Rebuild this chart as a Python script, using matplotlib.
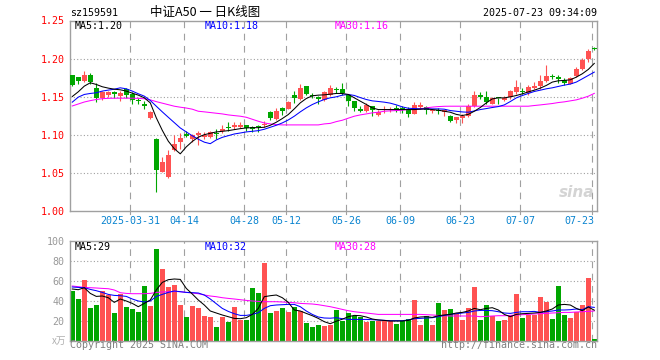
import matplotlib
matplotlib.use("Agg")
import matplotlib.pyplot as plt
from matplotlib.transforms import blended_transform_factory

# Daily candles, 2025-03-17 .. 2025-07-23 (index 0..87)
opens = [1.178, 1.1754, 1.1706, 1.178, 1.1614, 1.148, 1.153, 1.156, 1.151, 1.1605,
         1.154, 1.146, 1.141, 1.1224, 1.0952, 1.052, 1.0443, 1.0798, 1.0904, 1.1018,
         1.0952, 1.0996, 1.097, 1.097, 1.102, 1.1048, 1.1105, 1.111, 1.111, 1.1127,
         1.110, 1.111, 1.1127, 1.1307, 1.1215, 1.1355, 1.1346, 1.153, 1.147, 1.1645,
         1.1526, 1.1496, 1.1455, 1.1526, 1.1596, 1.1605, 1.1526, 1.1439, 1.1346, 1.132,
         1.1377, 1.126, 1.1325, 1.1325, 1.135, 1.1342, 1.1346, 1.1276, 1.137, 1.137,
         1.1316, 1.1325, 1.1298, 1.1254, 1.1195, 1.1219, 1.1245, 1.1386, 1.153, 1.150,
         1.141, 1.1486, 1.1464, 1.1495, 1.156, 1.1578, 1.1552, 1.1618, 1.164, 1.1706,
         1.1772, 1.1758, 1.1715, 1.167, 1.1772, 1.1868, 1.199, 1.2131]
highs = [1.179, 1.176, 1.1838, 1.1807, 1.168, 1.157, 1.158, 1.158, 1.158, 1.162,
         1.156, 1.149, 1.145, 1.132, 1.0955, 1.0706, 1.0807, 1.0996, 1.1026, 1.1057,
         1.101, 1.105, 1.104, 1.105, 1.108, 1.1127, 1.117, 1.1167, 1.117, 1.1136,
         1.112, 1.113, 1.118, 1.132, 1.1355, 1.137, 1.145, 1.1575, 1.167, 1.1645,
         1.155, 1.151, 1.158, 1.165, 1.163, 1.1675, 1.153, 1.144, 1.138, 1.142,
         1.1386, 1.133, 1.1386, 1.137, 1.1395, 1.138, 1.137, 1.143, 1.143, 1.138,
         1.1342, 1.1355, 1.1333, 1.126, 1.1237, 1.128, 1.140, 1.1574, 1.156, 1.1574,
         1.1495, 1.149, 1.1508, 1.1587, 1.1715, 1.162, 1.1649, 1.1693, 1.178, 1.1912,
         1.1803, 1.178, 1.175, 1.1763, 1.189, 1.2013, 1.2122, 1.2157]
lows = [1.164, 1.167, 1.170, 1.167, 1.1434, 1.146, 1.1496, 1.149, 1.145, 1.149,
        1.141, 1.140, 1.134, 1.1215, 1.025, 1.051, 1.0434, 1.0785, 1.082, 1.098,
        1.091, 1.0864, 1.0947, 1.096, 1.095, 1.1026, 1.1048, 1.108, 1.109, 1.105,
        1.104, 1.104, 1.110, 1.119, 1.119, 1.126, 1.134, 1.142, 1.146, 1.152,
        1.1478, 1.1408, 1.144, 1.151, 1.155, 1.152, 1.1377, 1.131, 1.130, 1.130,
        1.1246, 1.1246, 1.129, 1.130, 1.130, 1.129, 1.1237, 1.127, 1.134, 1.127,
        1.129, 1.127, 1.1246, 1.1167, 1.1158, 1.1157, 1.1236, 1.137, 1.1473, 1.141,
        1.1403, 1.141, 1.1443, 1.1473, 1.1539, 1.1535, 1.153, 1.1596, 1.1605, 1.1693,
        1.1728, 1.1675, 1.1649, 1.1662, 1.1763, 1.185, 1.1956, 1.2109]
closes = [1.165, 1.1706, 1.178, 1.169, 1.148, 1.156, 1.156, 1.154, 1.155, 1.153,
          1.146, 1.145, 1.138, 1.130, 1.0535, 1.064, 1.074, 1.0886, 1.0965, 1.099,
          1.0996, 1.102, 1.1004, 1.104, 1.1013, 1.108, 1.1096, 1.1136, 1.1136, 1.109,
          1.108, 1.110, 1.1136, 1.122, 1.132, 1.132, 1.1434, 1.1487, 1.161, 1.154,
          1.151, 1.1465, 1.1565, 1.161, 1.159, 1.1544, 1.1443, 1.135, 1.132, 1.139,
          1.1325, 1.130, 1.134, 1.1333, 1.1333, 1.1333, 1.128, 1.1395, 1.139, 1.1325,
          1.1333, 1.1316, 1.1325, 1.1184, 1.1235, 1.1245, 1.1377, 1.153, 1.150, 1.1438,
          1.1482, 1.1478, 1.1486, 1.1574, 1.1627, 1.1565, 1.1627, 1.164, 1.1706, 1.1772,
          1.1758, 1.174, 1.1684, 1.175, 1.1868, 1.1982, 1.21, 1.2127]

# Price moving averages as drawn
ma5 = [1.1504, 1.1566, 1.164, 1.1684, 1.1662, 1.1632, 1.1614, 1.160, 1.1592, 1.1575,
       1.1548, 1.1522, 1.1487, 1.1421, 1.1225, 1.1061, 1.0919, 1.082, 1.0753, 1.0844,
       1.0915, 1.0971, 1.1004, 1.1022, 1.104, 1.1048, 1.1057, 1.107, 1.1083, 1.1092,
       1.1096, 1.1096, 1.1101, 1.1127, 1.1167, 1.1215, 1.1268, 1.1342, 1.1421, 1.1478,
       1.1513, 1.1522, 1.1526, 1.1535, 1.1544, 1.1544, 1.1531, 1.1487, 1.1443, 1.140,
       1.1355, 1.1333, 1.1333, 1.1333, 1.1333, 1.1333, 1.1333, 1.1333, 1.1338, 1.1342,
       1.1333, 1.1325, 1.1311, 1.1298, 1.127, 1.1255, 1.1270, 1.1311, 1.136, 1.142,
       1.1473, 1.1486, 1.1486, 1.150, 1.1517, 1.1539, 1.1565, 1.1587, 1.1614, 1.1649,
       1.1693, 1.171, 1.1715, 1.1723, 1.1758, 1.1802, 1.1859, 1.1938]
ma10 = [1.143, 1.1496, 1.1531, 1.1544, 1.1553, 1.1575, 1.1588, 1.160, 1.1618, 1.1605,
        1.1575, 1.154, 1.1509, 1.1452, 1.1377, 1.1303, 1.1232, 1.1162, 1.1092, 1.104,
        1.0990, 1.0945, 1.0906, 1.0886, 1.0935, 1.0969, 1.0991, 1.1013, 1.1026, 1.104,
        1.1048, 1.1057, 1.1075, 1.1101, 1.1127, 1.1158, 1.1197, 1.1246, 1.1303, 1.1355,
        1.1399, 1.1434, 1.1465, 1.1487, 1.150, 1.1522, 1.1531, 1.1518, 1.149, 1.1465,
        1.1447, 1.1439, 1.143, 1.1417, 1.1395, 1.1368, 1.135, 1.1346, 1.1342, 1.1342,
        1.1342, 1.1342, 1.1338, 1.132, 1.1311, 1.1302, 1.1298, 1.1315, 1.1333, 1.1346,
        1.136, 1.1372, 1.1394, 1.1438, 1.1486, 1.1517, 1.1544, 1.157, 1.1587, 1.1605,
        1.1618, 1.1636, 1.1653, 1.1667, 1.1693, 1.1736, 1.178, 1.1824]
ma30 = [1.138, 1.1406, 1.1432, 1.145, 1.1465, 1.1476, 1.148, 1.1482, 1.1482, 1.1482,
        1.1482, 1.148, 1.1475, 1.146, 1.1437, 1.1417, 1.1397, 1.1377, 1.1364, 1.1353,
        1.1338, 1.1311, 1.1303, 1.1294, 1.1285, 1.1276, 1.1263, 1.1254, 1.1246, 1.1232,
        1.1206, 1.118, 1.1158, 1.1145, 1.1136, 1.1132, 1.1132, 1.1132, 1.1132, 1.1132,
        1.1132, 1.1132, 1.1145, 1.1152, 1.1175, 1.1193, 1.122, 1.1246, 1.1263, 1.1276,
        1.129, 1.1298, 1.1311, 1.1316, 1.132, 1.1325, 1.1333, 1.1338, 1.1342, 1.1355,
        1.1365, 1.1372, 1.1376, 1.1377, 1.1377, 1.1377, 1.1377, 1.1377, 1.1377, 1.1377,
        1.1377, 1.1377, 1.1377, 1.1377, 1.1377, 1.1377, 1.1377, 1.1386, 1.1394, 1.1403,
        1.1412, 1.1425, 1.1434, 1.1447, 1.146, 1.1482, 1.1508, 1.1545]

# Volume (x10k) and its moving averages
volumes = [49.7, 41.7, 60.7, 32.7, 35.7, 49.7, 45.7, 27.7, 46.7, 33.7,
           31.7, 28.7, 54.7, 34.7, 91.7, 71.7, 53.7, 55.7, 35.7, 23.7,
           34.7, 32.7, 24.7, 23.7, 13.7, 23.7, 18.7, 33.7, 20.7, 20.7,
           52.7, 47.7, 77.7, 27.7, 29.7, 32.7, 28.7, 33.7, 29.7, 17.7,
           13.7, 15.7, 14.7, 15.7, 30.7, 20.0, 27.7, 24.7, 23.7, 18.7,
           20.0, 20.0, 20.7, 20.0, 16.7, 20.0, 21.7, 40.7, 15.7, 24.7,
           15.7, 37.7, 30.7, 31.7, 26.3, 20.7, 32.7, 53.7, 20.7, 35.7,
           24.7, 19.7, 20.7, 25.7, 46.7, 22.7, 25.7, 25.7, 43.7, 38.7,
           21.7, 54.7, 25.7, 22.7, 28.7, 35.7, 62.7, 1.7]
vol_ma5 = [51.7, 51.0, 53.0, 47.3, 44.3, 44.7, 43.0, 38.3, 41.7, 39.7,
           37.3, 34.0, 37.3, 40.7, 50.7, 58.3, 61.0, 61.7, 61.3, 52.3,
           46.7, 40.7, 35.7, 29.7, 27.7, 25.7, 24.0, 22.3, 22.0, 23.0,
           26.3, 32.3, 44.0, 45.0, 45.7, 43.0, 38.3, 30.7, 29.7, 27.3,
           25.0, 22.3, 19.0, 17.0, 19.5, 21.5, 24.0, 25.3, 25.0, 23.7,
           21.7, 20.7, 20.3, 19.7, 19.7, 19.7, 20.3, 22.7, 23.7, 24.0,
           23.3, 25.0, 25.7, 26.3, 27.7, 28.3, 29.7, 32.3, 31.0, 32.3,
           33.0, 30.7, 26.3, 24.0, 26.3, 27.0, 27.3, 27.7, 28.3, 29.7,
           31.7, 35.7, 36.3, 35.7, 32.3, 30.0, 33.7, 30.5]
vol_ma10 = [53.7, 53.3, 53.0, 51.3, 50.0, 48.3, 46.3, 45.3, 45.0, 44.3,
            41.7, 39.7, 38.7, 39.7, 44.3, 46.3, 48.3, 49.7, 49.0, 48.3,
            48.0, 47.7, 45.7, 41.7, 37.0, 32.3, 29.3, 27.0, 25.3, 25.3,
            26.3, 28.0, 32.3, 35.0, 35.7, 36.0, 36.3, 36.3, 34.0, 29.7,
            26.3, 23.7, 22.7, 22.5, 23.0, 22.0, 21.3, 21.3, 21.3, 21.3,
            21.0, 20.7, 20.3, 20.0, 20.0, 20.0, 20.7, 22.0, 22.3, 22.7,
            23.0, 24.0, 25.3, 26.3, 27.0, 27.7, 28.3, 29.7, 30.3, 30.3,
            30.0, 29.0, 27.7, 27.3, 28.3, 29.0, 29.0, 29.3, 28.3, 29.0,
            29.7, 30.7, 30.7, 31.0, 31.7, 31.0, 34.0, 33.3]
vol_ma30 = [54.7, 54.0, 53.3, 53.0, 52.7, 52.3, 52.0, 50.7, 48.0, 47.3,
            47.0, 47.0, 47.0, 47.3, 48.3, 48.7, 49.0, 49.3, 49.0, 48.3,
            47.7, 47.0, 45.7, 44.7, 44.0, 43.0, 42.3, 41.7, 41.0, 40.3,
            39.7, 39.3, 39.0, 39.0, 39.0, 38.7, 38.3, 38.0, 37.3, 37.0,
            36.7, 36.0, 35.0, 34.0, 32.7, 31.3, 30.0, 29.0, 28.3, 27.7,
            27.0, 26.3, 26.3, 26.3, 26.3, 26.3, 26.3, 26.3, 26.3, 26.0,
            25.7, 25.3, 25.0, 24.7, 24.7, 24.7, 24.7, 24.7, 24.0, 24.3,
            24.7, 25.0, 25.0, 25.3, 25.7, 26.0, 26.3, 26.7, 27.0, 27.3,
            27.7, 28.0, 28.3, 28.3, 28.7, 29.0, 29.3, 29.7]

tick_idx = [10, 19, 29, 36, 46, 55, 65, 75, 87]
tick_labels = ["2025-03-31", "04-14", "04-28", "05-12", "05-26",
               "06-09", "06-23", "07-07", "07-23"]

RED = "#ff5252"
GREEN = "#00a600"
FRAME = "#a0a0a0"
W, H = 660, 360

plt.rcParams["font.family"] = ["DejaVu Sans Mono", "Noto Sans CJK SC"]


def px_rect(left, top, right, bottom):
    return [left / W, 1 - bottom / H, (right - left) / W, (bottom - top) / H]


fig = plt.figure(figsize=(W / 100, H / 100), dpi=100)
ax = fig.add_axes(px_rect(70, 20.5, 597, 211.3))
axv = fig.add_axes(px_rect(70, 240.7, 597, 340.7))

n = len(closes)
idx = list(range(n))
up = [c >= o for o, c in zip(opens, closes)]
colors = [RED if u else GREEN for u in up]
xlim = (-0.38, 87.45)
grid_x = [t - 0.38 for t in tick_idx]

for a in (ax, axv):
    a.set_xlim(*xlim)
    for s in a.spines.values():
        s.set_color(FRAME)
        s.set_linewidth(1.0)
    for gx in grid_x:
        a.axvline(gx, color=FRAME, lw=0.8, ls=(0, (6, 5)), zorder=0)
    a.set_xticks([])

# Candles
bottoms = [min(o, c) for o, c in zip(opens, closes)]
heights = [max(abs(c - o), 0.0014) for o, c in zip(opens, closes)]
ax.vlines(idx, lows, highs, colors=colors, lw=0.8, zorder=2)
ax.bar(idx, heights, bottom=bottoms, width=0.8, color=colors, lw=0, zorder=3)

ax.plot(idx, ma30, color="#ff00ff", lw=0.75, zorder=4)
ax.plot(idx, ma10, color="#0000ff", lw=0.75, zorder=4)
ax.plot(idx, ma5, color="black", lw=0.75, zorder=4)

ax.set_ylim(1.0, 1.25)
main_ticks = [1.00, 1.05, 1.10, 1.15, 1.20, 1.25]
ax.set_yticks(main_ticks)
ax.set_yticklabels(["%.2f" % t for t in main_ticks])
ax.tick_params(axis="y", length=0, pad=4, labelsize=7.2, labelcolor="#ff0000")
for t in main_ticks[1:-1]:
    ax.axhline(t, color=FRAME, lw=0.8, ls=(0, (1, 2)), zorder=0)

# x labels under the price panel
trans = blended_transform_factory(ax.transData, ax.transAxes)
for i, (gx, lab) in enumerate(zip(grid_x, tick_labels)):
    ax.plot([gx, gx], [0, -0.012], color=FRAME, lw=0.8, transform=trans, clip_on=False)
    if i == len(tick_labels) - 1:
        ax.text(87.0, -0.052, lab, transform=trans, ha="right", va="center",
                fontsize=7.2, color="#0a84d0")
    else:
        ax.text(gx, -0.052, lab, transform=trans, ha="center", va="center",
                fontsize=7.2, color="#0a84d0")

ax.text(5 / 527, 0.971, "MA5:1.20", transform=ax.transAxes, va="center",
        fontsize=7.2, color="black")
ax.text(135 / 527, 0.971, "MA10:1.18", transform=ax.transAxes, va="center",
        fontsize=7.2, color="#0000ff")
ax.text(265 / 527, 0.971, "MA30:1.16", transform=ax.transAxes, va="center",
        fontsize=7.2, color="#ff00ff")

# sina watermark
ax.text(0.995, 0.1, "sina", transform=ax.transAxes, ha="right", va="center",
        fontsize=11, fontweight="bold", style="italic", color="#d4d4d4",
        family="DejaVu Sans")

# Volume panel
axv.bar(idx, volumes, width=0.85, color=colors, lw=0, zorder=2)
axv.plot(idx, vol_ma30, color="#ff00ff", lw=0.75, zorder=4)
axv.plot(idx, vol_ma10, color="#0000ff", lw=0.75, zorder=4)
axv.plot(idx, vol_ma5, color="black", lw=0.75, zorder=4)
axv.set_ylim(0, 100)
vol_ticks = [20, 40, 60, 80, 100]
axv.set_yticks(vol_ticks)
axv.set_yticklabels([str(t) for t in vol_ticks])
axv.tick_params(axis="y", length=0, pad=4, labelsize=7.2, labelcolor="#999999")
for t in vol_ticks[:-1]:
    axv.axhline(t, color=FRAME, lw=0.8, ls=(0, (1, 2)), zorder=0)

axv.text(5 / 527, 0.937, "MA5:29", transform=axv.transAxes, va="center",
         fontsize=7.2, color="black")
axv.text(135 / 527, 0.937, "MA10:32", transform=axv.transAxes, va="center",
         fontsize=7.2, color="#0000ff")
axv.text(265 / 527, 0.937, "MA30:28", transform=axv.transAxes, va="center",
         fontsize=7.2, color="#ff00ff")

# Header and footer texts
fig.text(70 / W, 1 - 13.3 / H, "sz159591", ha="left", va="center",
         fontsize=7.2, color="black")
fig.text(150 / W, 1 - 12.5 / H, "中证A50 一 日K线图", ha="left", va="center",
         fontsize=9, color="black", family=["Noto Sans CJK SC", "DejaVu Sans"])
fig.text(597 / W, 1 - 13.3 / H, "2025-07-23 09:34:09", ha="right", va="center",
         fontsize=7.2, color="black")
fig.text(66 / W, 1 - 341 / H, "x万", ha="right", va="center",
         fontsize=7, color="#b0b0b0", style="italic",
         family=["Noto Sans CJK SC", "DejaVu Sans"])
fig.text(70 / W, 1 - 345.5 / H, "Copyright 2025 SINA.COM", ha="left", va="center",
         fontsize=7.2, color="#808080")
fig.text(597 / W, 1 - 345.5 / H, "http://finance.sina.com.cn", ha="right", va="center",
         fontsize=7.2, color="#808080")

fig.savefig("out.png", dpi=100)
